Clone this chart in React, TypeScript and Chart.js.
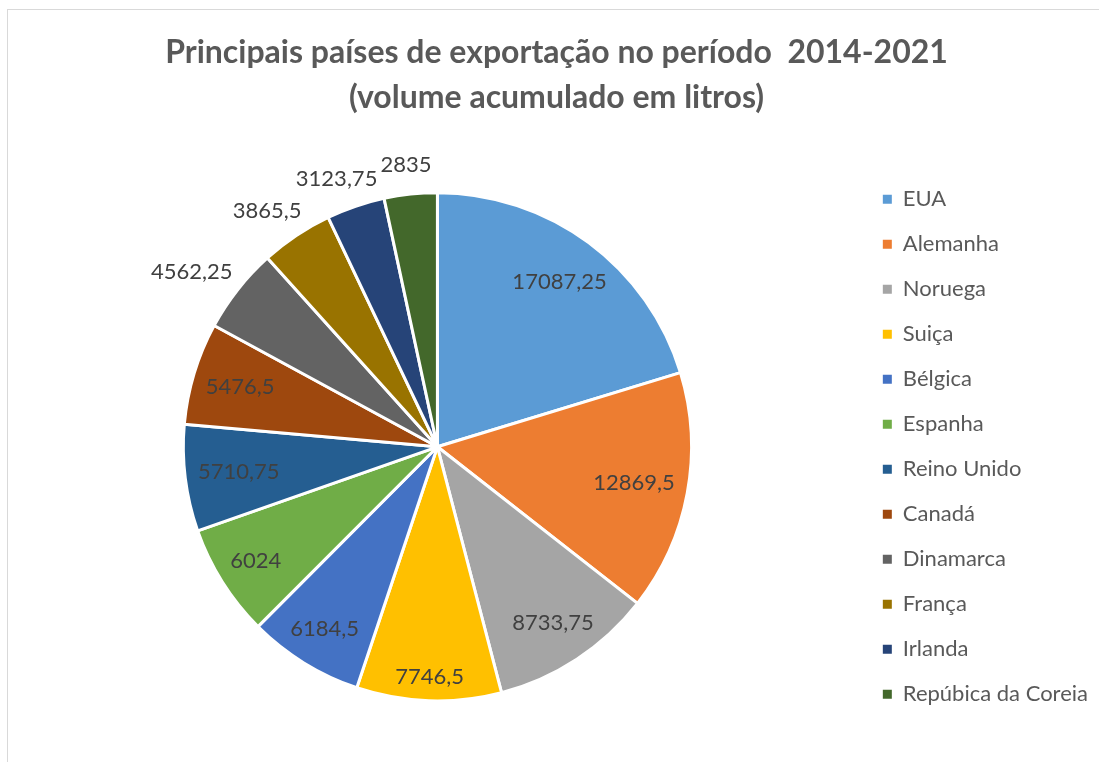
import React, { useEffect, useRef } from 'react';
import { Chart, registerables } from 'chart.js';

Chart.register(...registerables);

const countries = ['EUA', 'Alemanha', 'Noruega', 'Suiça', 'Bélgica', 'Espanha', 'Reino Unido', 'Canadá', 'Dinamarca', 'França', 'Irlanda', 'Repúbica da Coreia'];
const volumes = [17087.25, 12869.5, 8733.75, 7746.5, 6184.5, 6024, 5710.75, 5476.5, 4562.25, 3865.5, 3123.75, 2835];
const sliceColors = ['#5B9BD5', '#ED7D31', '#A5A5A5', '#FFC000', '#4472C4', '#70AD47', '#255E91', '#9E480E', '#636363', '#997300', '#264478', '#43682B'];
const titleLines = ['Principais países de exportação no período  2014-2021', '(volume acumulado em litros)'];

const FONT = 'Lato';
const LABEL_SIZE = 22;

const sliceLabelPlugin = {
  id: 'sliceLabels',
  afterDatasetsDraw(chart: any) {
    const ctx = chart.ctx;
    const meta = chart.getDatasetMeta(0);
    const data = chart.data.datasets[0].data as number[];
    const total = data.reduce((a, b) => a + b, 0);
    ctx.save();
    ctx.font = `${LABEL_SIZE}px ${FONT}`;
    ctx.fillStyle = '#404040';
    ctx.textAlign = 'center';
    ctx.textBaseline = 'middle';
    meta.data.forEach((arc: any, i: number) => {
      const p = arc.getProps(['x', 'y', 'startAngle', 'endAngle', 'outerRadius'], true);
      const mid = (p.startAngle + p.endAngle) / 2;
      const dx = Math.cos(mid);
      const dy = Math.sin(mid);
      const text = String(data[i]).replace('.', ',');
      const w = ctx.measureText(text).width;
      const h = LABEL_SIZE;
      let cx: number, cy: number;
      if (data[i] / total < 0.06) {
        const a = p.outerRadius + 18;
        cx = p.x + dx * a + dx * w / 2;
        cy = p.y + dy * a + dy * h / 2;
      } else {
        const ext = Math.abs(dx) * w / 2 + Math.abs(dy) * h / 2;
        const d = p.outerRadius - 12 - ext;
        cx = p.x + dx * d;
        cy = p.y + dy * d;
      }
      ctx.fillText(text, cx, cy);
    });
    ctx.restore();
  },
};

export default function App() {
  const canvasRef = useRef<HTMLCanvasElement>(null);

  useEffect(() => {
    if (!canvasRef.current) return;
    const chart = new Chart(canvasRef.current, {
      type: 'pie',
      data: {
        labels: countries,
        datasets: [
          {
            data: volumes,
            backgroundColor: sliceColors,
            borderColor: '#ffffff',
            borderWidth: 3,
            radius: '81%',
          },
        ],
      },
      options: {
        responsive: false,
        animation: false,
        layout: { padding: { left: 7, right: 1, top: 0, bottom: 0 } },
        plugins: {
          tooltip: { enabled: false },
          title: {
            display: true,
            text: titleLines,
            color: '#595959',
            font: { family: FONT, size: 32, weight: 'bold', lineHeight: 1.4 },
            padding: { top: 20, bottom: 12 },
          },
          legend: {
            position: 'right',
            fullSize: false,
            labels: {
              boxWidth: 9,
              boxHeight: 9,
              padding: 23,
              color: '#595959',
              font: { family: FONT, size: 22 },
              generateLabels(c: any) {
                const items = (Chart as any).overrides.pie.plugins.legend.labels.generateLabels(c);
                return items.map((it: any) => ({ ...it, lineWidth: 0, strokeStyle: it.fillStyle }));
              },
            },
          },
        },
      } as any,
      plugins: [sliceLabelPlugin],
    });
    return () => chart.destroy();
  }, []);

  return (
    <div
      style={{
        position: 'fixed',
        left: 7,
        top: 9,
        right: 0,
        bottom: 0,
        borderLeft: '1px solid #d9d9d9',
        borderTop: '1px solid #d9d9d9',
        background: '#fff',
      }}
    >
      <canvas ref={canvasRef} width={1091} height={752} style={{ display: 'block' }} />
    </div>
  );
}
